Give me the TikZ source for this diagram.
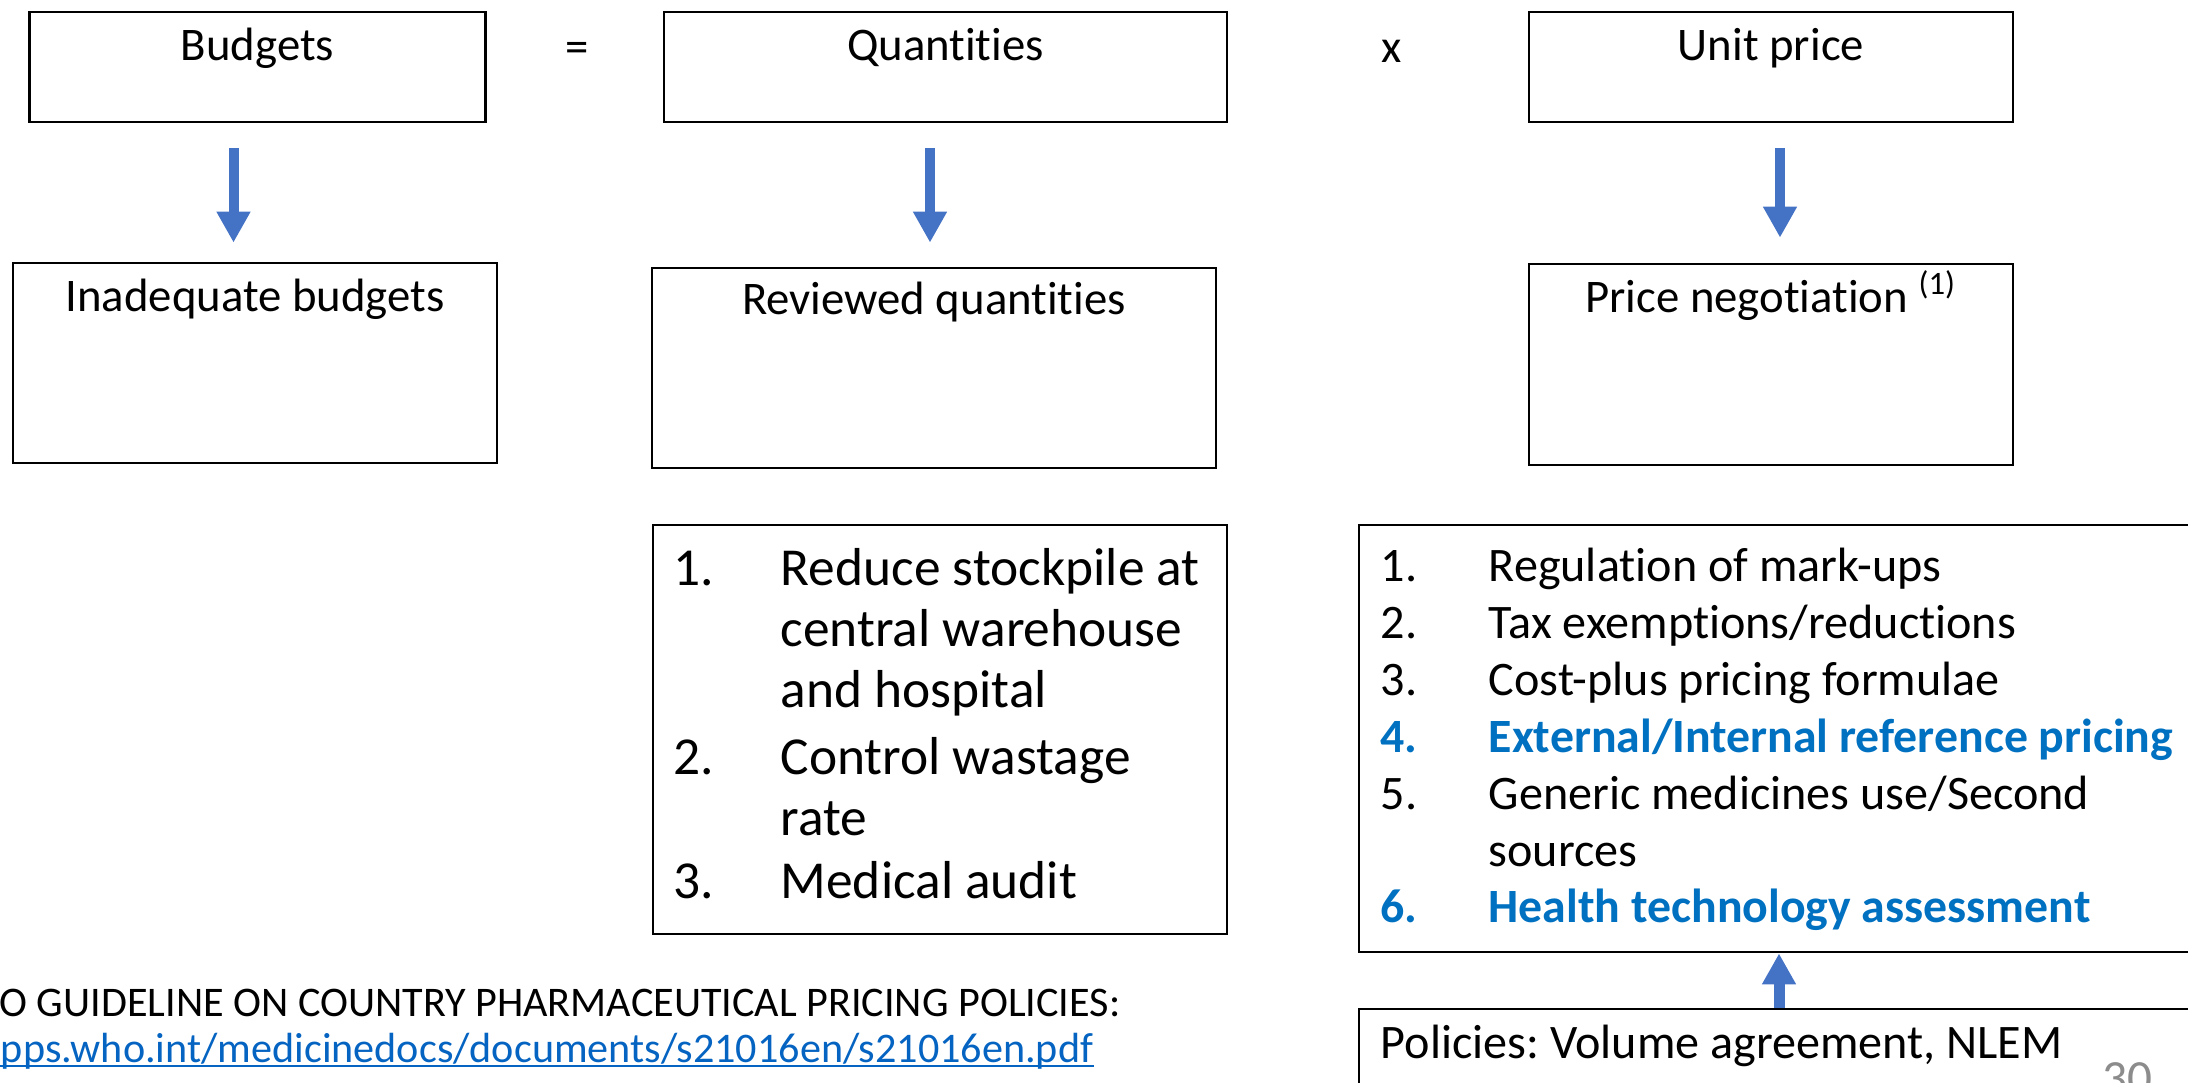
\documentclass[tikz,border=0pt]{standalone}
\usepackage{fontspec}
\setmainfont{Carlito}[Ligatures={NoCommon}]
\usepackage{tikz}
\usetikzlibrary{arrows.meta,positioning}

\definecolor{arrowblue}{HTML}{4472C4}
\definecolor{itemblue}{HTML}{0070C0}
\definecolor{linkblue}{HTML}{0563C1}
\definecolor{pagegray}{HTML}{8C8C8C}

\frenchspacing

\begin{document}
\begin{tikzpicture}[
	box/.style={rectangle, draw, line width=0.8pt, inner sep=0pt},
	title/.style={anchor=base, inner sep=0pt, font=\fontsize{13.3}{16}\selectfont},
	listtext/.style={anchor=base west, inner sep=0pt, font=\fontsize{15.2}{18}\selectfont},
	pricetext/.style={anchor=base west, inner sep=0pt, font=\fontsize{13.7}{16}\selectfont},
	keyitem/.style={anchor=base west, inner sep=0pt, text=itemblue, font=\fontsize{13.6}{16}\selectfont\bfseries},
	downarrow/.style={draw=arrowblue, line width=0.1cm, -{Triangle[width=0.32cm,length=0.31cm]}},
	uparrow/.style={draw=arrowblue, line width=0.11cm, -{Triangle[width=0.32cm,length=0.31cm]}},
	]
	
	\path[use as bounding box, clip] (0,0) rectangle (21.88,-10.82);
	
	% Top row
	
	\node[box, minimum width=4.56cm, minimum height=1.10cm] 
	(budgets) at (2.575,-0.67) {};
	
	\node[box, minimum width=5.63cm, minimum height=1.10cm] 
	(quantities) at (9.455,-0.67) {};
	
	\node[box, minimum width=4.84cm, minimum height=1.10cm] 
	(unitprice) at (17.71,-0.67) {};
	
	\node[title] (tBudgets) at ([yshift=-0.50cm]budgets.north) {Budgets};
	\node[title] (tQuantities) at ([yshift=-0.50cm]quantities.north) {Quantities};
	\node[title] (tUnitprice) at ([yshift=-0.50cm]unitprice.north) {Unit price};
	
	\node[title] (equals) at (5.77,-0.62) {=};
	\node[title] (times) at (13.92,-0.62) {x};
	
	% Second row
	
	\node[box, minimum width=4.84cm, minimum height=2.00cm] 
	(inadequate) at (2.55,-3.63) {};
	
	\node[box, minimum width=5.64cm, minimum height=2.00cm] 
	(reviewed) at (9.34,-3.68) {};
	
	\node[box, minimum width=4.84cm, minimum height=2.01cm] 
	(negotiation) at (17.71,-3.645) {};
	
	\node[title] (tInadequate) at ([yshift=-0.50cm]inadequate.north) {Inadequate budgets};
	\node[title] (tReviewed) at ([yshift=-0.48cm]reviewed.north) {Reviewed quantities};
	\node[title] (tNegotiation) at ([yshift=-0.50cm]negotiation.north) {Price negotiation \textsuperscript{(1)}};
	
	% Arrows...
	
	\draw[downarrow, shorten <=0.25cm, shorten >=0.19cm] ([xshift=-0.24cm]budgets.south) -- ([xshift=-0.24cm]budgets.south |- inadequate.north);
	\draw[downarrow, shorten <=0.25cm, shorten >=0.24cm] ([xshift=-0.155cm]quantities.south) -- ([xshift=-0.155cm]quantities.south |- reviewed.north);
	\draw[downarrow, shorten <=0.25cm, shorten >=0.25cm] ([xshift=0.09cm]unitprice.south) -- ([xshift=0.09cm]unitprice.south |- negotiation.north);
	
	% Lists
	
	\node[box, minimum width=5.74cm, minimum height=4.09cm] 
	(reducelist) at (9.40,-7.295) {};
	
	\node[listtext] (rn1) at (6.73,-5.85) {1.};
	\node[listtext] (rt1) at (7.80,-5.85) {Reduce stockpile at};
	\node[listtext] (rt1b) at (7.80,-6.46) {central warehouse};
	\node[listtext] (rt1c) at (7.80,-7.07) {and hospital};
	\node[listtext] (rn2) at (6.73,-7.74) {2.};
	\node[listtext] (rt2) at (7.80,-7.74) {Control wastage};
	\node[listtext] (rt2b) at (7.80,-8.35) {rate};
	\node[listtext] (rn3) at (6.73,-8.98) {3.};
	\node[listtext] (rt3) at (7.80,-8.98) {Medical audit};
	
	\node[box, minimum width=8.40cm, minimum height=4.27cm] 
	(pricelist) at (17.79,-7.385) {};
	
	\node[pricetext] (pn1) at (13.80,-5.81) {1.};
	\node[pricetext] (pt1) at (14.88,-5.81) {Regulation of mark-ups};
	\node[pricetext] (pn2) at (13.80,-6.38) {2.};
	\node[pricetext] (pt2) at (14.88,-6.38) {Tax exemptions/reductions};
	\node[pricetext] (pn3) at (13.80,-6.95) {3.};
	\node[pricetext] (pt3) at (14.88,-6.95) {Cost-plus pricing formulae};
	\node[keyitem] (pn4) at (13.80,-7.52) {4.};
	\node[keyitem] (pt4) at (14.88,-7.52) {External/Internal reference pricing};
	\node[pricetext] (pn5) at (13.80,-8.09) {5.};
	\node[pricetext] (pt5) at (14.88,-8.09) {Generic medicines use/Second};
	\node[pricetext] (pt5b) at (14.88,-8.66) {sources};
	\node[keyitem] (pn6) at (13.80,-9.22) {6.};
	\node[keyitem] (pt6) at (14.88,-9.22) {Health technology assessment};
	
	\node[box, minimum width=8.40cm, minimum height=0.91cm] 
	(policies) at (17.79,-10.545) {};
	\node[pricetext] (tPolicies) at (13.80,-10.58) {Policies: Volume agreement, NLEM};
	
	\draw[uparrow] (policies.north) -- (pricelist.south);
	
	% Source
	
	\node[anchor=base east, inner sep=0pt, font=\fontsize{12}{14}\selectfont] 
	(whoguide) at (11.21,-10.16) {O GUIDELINE ON COUNTRY PHARMACEUTICAL PRICING POLICIES:};
	\node[anchor=base east, inner sep=0pt, text=linkblue, font=\fontsize{12}{14}\selectfont] 
	(whourl) at (10.94,-10.62) {pps.who.int/medicinedocs/documents/s21016en/s21016en.pdf};
	\draw[linkblue, line width=0.6pt] ([yshift=-1.2pt]whourl.base west) -- ([yshift=-1.2pt]whourl.base east);
	
	\node[anchor=base west, inner sep=0pt, text=pagegray, font=\fontsize{14}{17}\selectfont] 
	(pagenum) at (21.02,-10.94) {30};
	
\end{tikzpicture}
\end{document}
